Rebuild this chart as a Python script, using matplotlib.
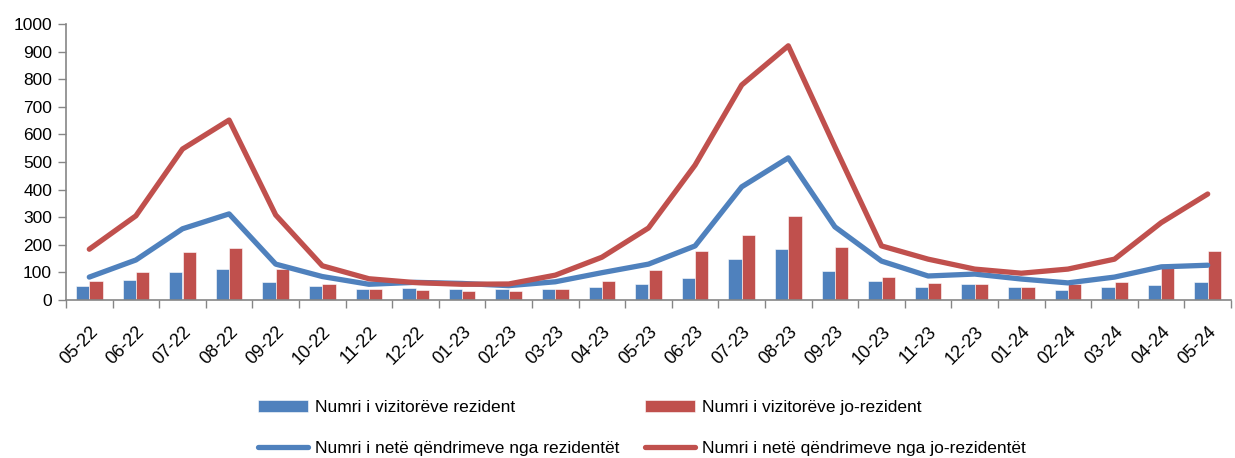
import numpy as np
import matplotlib
matplotlib.use("Agg")
import matplotlib.pyplot as plt
from matplotlib.ticker import FixedLocator

months = ["05-22", "06-22", "07-22", "08-22", "09-22", "10-22", "11-22", "12-22",
          "01-23", "02-23", "03-23", "04-23", "05-23", "06-23", "07-23", "08-23",
          "09-23", "10-23", "11-23", "12-23", "01-24", "02-24", "03-24", "04-24", "05-24"]

# vizitorë (shtylla)
vis_res = [51, 72, 103, 112, 65, 50, 39, 45, 41, 39, 39, 47, 57, 81, 150, 186,
           105, 69, 47, 58, 47, 35, 47, 54, 65]
vis_nonres = [70, 100, 174, 188, 112, 59, 40, 36, 34, 34, 40, 68, 110, 179, 236, 306,
              192, 83, 62, 58, 47, 58, 66, 130, 178]

# netë qëndrimi (vija)
nights_res = [83, 145, 258, 312, 130, 85, 57, 64, 60, 52, 66, 99, 130, 196, 410, 515,
              265, 141, 87, 94, 76, 62, 83, 120, 126]
nights_nonres = [184, 305, 547, 652, 308, 124, 77, 63, 57, 58, 90, 155, 261, 489, 779, 921,
                 555, 196, 148, 112, 97, 112, 148, 280, 384]

labels = ["Numri i vizitorëve rezident", "Numri i vizitorëve jo-rezident",
          "Numri i netë qëndrimeve nga rezidentët", "Numri i netë qëndrimeve nga jo-rezidentët"]

plt.rcParams['font.family'] = ['Liberation Sans', 'DejaVu Sans']

BLUE = "#4F81BD"
RED = "#C0504D"
GRAY = "#868686"

fig = plt.figure(figsize=(12.35, 4.58), dpi=100)
ax = fig.add_axes([66 / 1235, 1 - 300 / 458, (1231 - 66) / 1235, (300 - 24) / 458])

x = np.arange(len(months))
w = 0.286
b1 = ax.bar(x - w / 2, vis_res, w, color=BLUE, edgecolor="white", linewidth=0.4, zorder=2)
b2 = ax.bar(x + w / 2, vis_nonres, w, color=RED, edgecolor="white", linewidth=0.4, zorder=2)
l1, = ax.plot(x, nights_res, color=BLUE, lw=3.8, solid_capstyle="round",
              solid_joinstyle="round", zorder=3)
l2, = ax.plot(x, nights_nonres, color=RED, lw=3.8, solid_capstyle="round",
              solid_joinstyle="round", zorder=3)

ax.set_xlim(-0.5, len(months) - 0.5)
ax.set_ylim(0, 1000)
ax.set_yticks(np.arange(0, 1001, 100))
ax.tick_params(axis="y", labelsize=12.5, length=6, color=GRAY, width=1, pad=4)

ax.xaxis.set_major_locator(FixedLocator(np.arange(-0.5, len(months), 1)))
ax.xaxis.set_minor_locator(FixedLocator(x))
ax.set_xticklabels([], minor=False)
ax.set_xticklabels(months, minor=True, rotation=45, ha="right", rotation_mode="anchor")
ax.tick_params(axis="x", which="major", length=6, color=GRAY, width=1)
ax.tick_params(axis="x", which="minor", length=0, labelsize=13, pad=17)

for s in ["top", "right"]:
    ax.spines[s].set_visible(False)
for s in ["left", "bottom"]:
    ax.spines[s].set_color(GRAY)
    ax.spines[s].set_linewidth(1.2)

fig.legend([b1, l1, b2, l2], [labels[0], labels[2], labels[1], labels[3]],
           ncol=2, loc="center", bbox_to_anchor=(642 / 1235, 1 - 428 / 458),
           frameon=False, fontsize=12.5, handlelength=2.9, handletextpad=0.4,
           columnspacing=1.45, labelspacing=1.5)

fig.savefig("out.png", dpi=100)
